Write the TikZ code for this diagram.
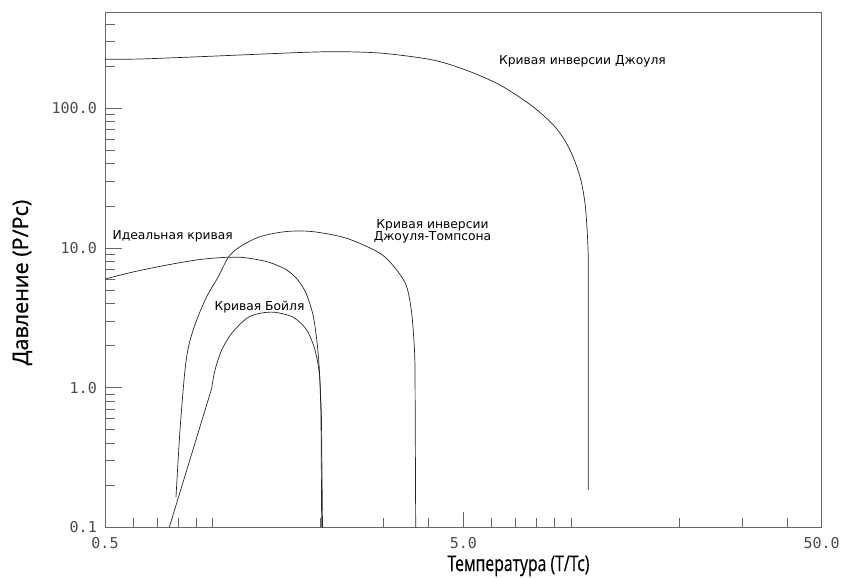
\documentclass[tikz,border=0pt]{standalone}
\usepackage{fontspec}
\setmainfont{DejaVu Sans}
\newfontfamily\titlefont{Open Sans}[FakeBold=0.6]
\newfontfamily\tickfont{DejaVu Sans Mono}
\usepackage{graphicx}
\usetikzlibrary{positioning}

\begin{document}
\begin{tikzpicture}[x=1pt, y=-1pt,
    curve/.style={line width=0.7pt, black!85},
    frame/.style={line width=0.8pt, black!60},
    tick/.style={line width=0.7pt, black!60},
    ticklabel/.style={font=\tickfont\fontsize{15}{15}\selectfont, text=black!70, inner sep=0pt},
    curvelabel/.style={font=\fontsize{12.3}{12.5}\selectfont, inner sep=0pt},
    axistitle/.style={font=\titlefont\fontsize{21.6}{24}\selectfont, inner sep=0pt}]
  \useasboundingbox (0,0) rectangle (841,578);
  % frame
  \draw[frame] (105,12) rectangle (821.7,527.3);
  % pressure axis, log
  \foreach \p in {0.2,0.3,0.4,0.5,0.6,0.7,0.8,0.9,2,3,4,5,6,7,8,9,20,30,40,50,60,70,80,90,200,300,400}
    \draw[tick] (105,{527.3-139.7*log10(\p/0.1)}) -- ++(10,0);
  \foreach \p/\lbl/\n in {1/1.0/1,10/10.0/2,100/100.0/3}
    \draw[tick] (105,{527.3-139.7*log10(\p/0.1)}) -- ++(17,0);
  \foreach \p/\lbl/\n in {0.1/0.1/0,1/1.0/1,10/10.0/2,100/100.0/3}
    \node[ticklabel, anchor=east] (ylab\n) at (97,{527.3-139.7*log10(\p/0.1)}) {\lbl};
  % temperature axis, log
  \foreach \t in {0.6,0.7,0.8,0.9,1,2,3,4,6,7,8,9,10,20,30,40}
    \draw[tick] ({105+358.3*log10(\t/0.5)},527.3) -- ++(0,-9);
  \draw[tick] ({105+358.3*log10(5/0.5)},527.3) -- ++(0,-15);
  \foreach \t/\lbl/\n in {0.5/0.5/0,5/5.0/1,50/50.0/2}
    \node[ticklabel] (xlab\n) at ({105+358.3*log10(\t/0.5)},543.5) {\lbl};
  % axis titles
  \node[axistitle, anchor=base] (x_title) at (518.5,571) {\scalebox{0.73}[1]{Температура (T/Tc)}};
  \node[axistitle, anchor=base, rotate=90] (y_title) at (28,282.5) {Давление (P/Pc)};
  % Joule inversion curve
  \draw[curve] plot[smooth, tension=0.5] coordinates {(105,59.3) (140,59) (200,56.7) (300,52.5)
    (340,51.7) (383,53.3) (433,60) (467,70.5) (500,85) (533,106.7) (556,128) (570,150)
    (580,176.7) (585,203.3) (587.3,233.3) (588.3,256.7)} -- (588.3,490);
  % ideal curve
  \draw[curve] plot[smooth, tension=0.5] coordinates {(105,279) (133,272) (167,265) (200,259.5)
    (227,257.3) (245,257.7) (268,262) (286,269.5) (297,279) (306,293) (313,315) (317,342)
    (319.5,372) (321,415)} -- (321.7,527.3);
  % Boyle curve
  \draw[curve] (169.3,527.3) -- (211.7,388.3)
    plot[smooth, tension=0.5] coordinates {(211.7,388.3) (215,370) (221.7,350) (231.7,333.3)
    (246.7,318.3) (260,313.3) (275,312.3) (293.3,317.3) (306.7,330) (315,350) (319.3,373.3)
    (320.7,397) (321.5,420)} -- (322.5,527.3);
  % Joule-Thomson inversion curve
  \draw[curve] plot[smooth, tension=0.5] coordinates {(176,497) (180,430) (185,370) (189.3,343.3)
    (196.7,320) (206.7,296.7) (218.3,276.7) (228.3,257.3) (240,246.7) (260,236.7) (286.7,231.5)
    (313.3,231.7) (346.7,238.3) (380,253.3) (396.7,270) (406.7,286.7) (411.7,313.3)
    (414.3,346.7) (415,367)} -- (415.7,527.3);
  % labels
  \node[curvelabel, anchor=base] (joule_label) at (582.5,64.3) {Кривая инверсии Джоуля};
  \node[curvelabel, anchor=base] (ideal_label) at (172.7,239) {Идеальная кривая};
  \node[curvelabel, anchor=base] (boyle_label) at (259.5,310) {Кривая Бойля};
  \node[curvelabel, anchor=base] (jt_label) at (432.5,228.3) {Кривая инверсии};
  \node[curvelabel, below=0.3pt of jt_label] (jt_label_b) {Джоуля-Томпсона};
\end{tikzpicture}
\end{document}
